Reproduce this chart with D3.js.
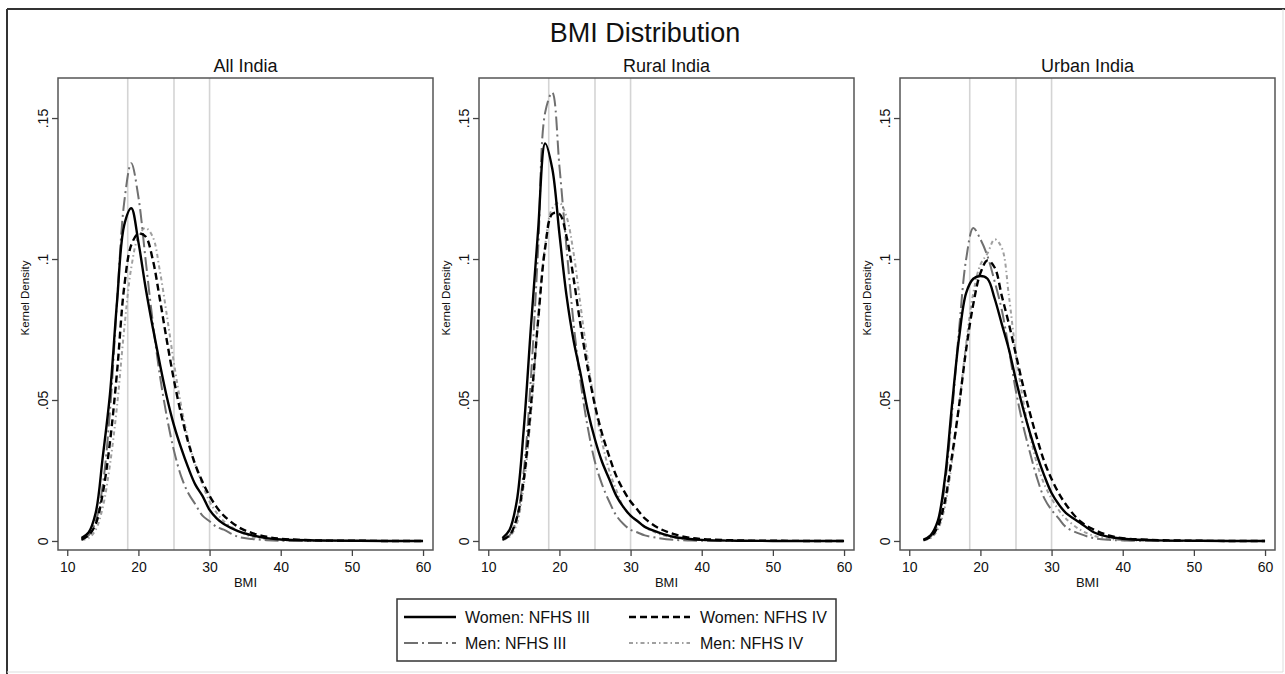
<!DOCTYPE html>
<html><head><meta charset="utf-8">
<script src="https://cdn.jsdelivr.net/npm/d3@7"></script>
<style>
body{margin:0;background:#fff}
text{font-family:"Liberation Sans",Arial,Helvetica,sans-serif;fill:#111}
</style></head>
<body><svg id="chart" width="1285" height="674"></svg>
<script>
// ---- data ----
const chartTitle = "BMI Distribution";
const panelNames = ["All India", "Rural India", "Urban India"];
const seriesNames = ["Women: NFHS III", "Women: NFHS IV", "Men: NFHS III", "Men: NFHS IV"];
const bmi = [12,13,14,15,16,17,18,19,20,21,22,23,24,25,26,27,28,29,30,31,32,34,36,38,40,45,50,55,60];
const xTicks = [10,20,30,40,50,60];
const yTicks = [0,0.05,0.1,0.15];
const yTickLabels = ["0",".05",".1",".15"];
const refLines = [18.5,25,30];

// All India
const allWomenIII = [0.001,0.003,0.010,0.030,0.052,0.085,0.112,0.118,0.106,0.090,0.076,0.063,0.051,0.041,0.033,0.026,0.020,0.016,0.011,0.008,0.006,0.0035,0.002,0.001,0.0005,0.0002,0.0001,0,0];
const allWomenIV  = [0.0005,0.002,0.006,0.017,0.035,0.060,0.090,0.105,0.109,0.108,0.100,0.086,0.071,0.057,0.045,0.035,0.027,0.021,0.016,0.012,0.009,0.005,0.0028,0.0015,0.0008,0.0002,0.0001,0,0];
const allMenIII   = [0.0005,0.002,0.007,0.020,0.046,0.085,0.120,0.134,0.122,0.100,0.078,0.059,0.044,0.032,0.023,0.017,0.013,0.009,0.007,0.005,0.004,0.0015,0.0007,0.0003,0.0001,0,0,0,0];
const allMenIV    = [0.0003,0.001,0.004,0.012,0.027,0.048,0.075,0.097,0.108,0.111,0.108,0.096,0.080,0.063,0.048,0.036,0.027,0.020,0.014,0.010,0.007,0.0035,0.0015,0.0007,0.0003,0.0001,0,0,0];
// Rural India
const ruralWomenIII = [0.001,0.004,0.014,0.040,0.076,0.110,0.141,0.132,0.109,0.087,0.071,0.059,0.046,0.036,0.028,0.022,0.016,0.012,0.009,0.007,0.005,0.003,0.0015,0.0008,0.0004,0.0001,0,0,0];
const ruralWomenIV  = [0.0005,0.002,0.008,0.022,0.048,0.078,0.104,0.116,0.116,0.108,0.093,0.076,0.061,0.048,0.038,0.030,0.023,0.018,0.014,0.011,0.008,0.0045,0.0025,0.0013,0.0007,0.0002,0.0001,0,0];
const ruralMenIII   = [0.0005,0.002,0.008,0.025,0.058,0.103,0.152,0.159,0.133,0.104,0.077,0.056,0.040,0.028,0.020,0.014,0.009,0.006,0.004,0.003,0.002,0.001,0.0004,0.0002,0.0001,0,0,0,0];
const ruralMenIV    = [0.0003,0.0015,0.006,0.020,0.045,0.078,0.105,0.118,0.120,0.115,0.102,0.083,0.064,0.048,0.035,0.025,0.018,0.012,0.009,0.007,0.005,0.0025,0.0012,0.0006,0.0003,0.0001,0,0,0];
// Urban India
const urbanWomenIII = [0.0005,0.002,0.007,0.022,0.048,0.072,0.088,0.093,0.094,0.093,0.086,0.077,0.068,0.057,0.047,0.038,0.030,0.023,0.017,0.013,0.010,0.0065,0.003,0.0015,0.0008,0.0002,0.0001,0,0];
const urbanWomenIV  = [0.0003,0.0015,0.005,0.014,0.030,0.048,0.068,0.084,0.095,0.0995,0.097,0.087,0.077,0.066,0.055,0.045,0.036,0.028,0.022,0.017,0.013,0.007,0.004,0.002,0.001,0.0003,0.0001,0,0];
const urbanMenIII   = [0.0003,0.0015,0.006,0.020,0.045,0.075,0.100,0.111,0.107,0.101,0.092,0.082,0.068,0.053,0.041,0.031,0.022,0.015,0.011,0.008,0.005,0.0025,0.001,0.0004,0.0002,0,0,0,0];
const urbanMenIV    = [0.0002,0.001,0.004,0.012,0.028,0.048,0.070,0.088,0.098,0.102,0.107,0.104,0.087,0.066,0.050,0.037,0.027,0.020,0.015,0.011,0.008,0.004,0.0018,0.0008,0.0003,0.0001,0,0,0];

const panelData = [
  [allWomenIII, allWomenIV, allMenIII, allMenIV],
  [ruralWomenIII, ruralWomenIV, ruralMenIII, ruralMenIV],
  [urbanWomenIII, urbanWomenIV, urbanMenIII, urbanMenIV]
];

// ---- styles ----
const styles = [
  {color:"#000", width:2.4, dash:null},
  {color:"#000", width:2.4, dash:"7,4"},
  {color:"#707070", width:2, dash:"14,4,2,4"},
  {color:"#a0a0a0", width:2, dash:"4,3,1.5,3"}
];

const svg = d3.select("#chart");
// outer frame
svg.append("line").attr("x1",7).attr("x2",1285).attr("y1",9).attr("y2",9).attr("stroke","#333").attr("stroke-width",2);
svg.append("line").attr("x1",7).attr("x2",7).attr("y1",9).attr("y2",674).attr("stroke","#333").attr("stroke-width",2);
svg.append("line").attr("x1",1283).attr("x2",1283).attr("y1",9).attr("y2",672).attr("stroke","#ddd").attr("stroke-width",1);
svg.append("line").attr("x1",7).attr("x2",1283).attr("y1",672).attr("y2",672).attr("stroke","#ddd").attr("stroke-width",1);

svg.append("text").attr("x",645).attr("y",42).attr("text-anchor","middle")
  .attr("font-size",27).text(chartTitle);

const panelLefts = [58, 479, 900];
const pw = 375, plotTop = 78, plotBottom = 550;

panelLefts.forEach((left, pi) => {
  const x = d3.scaleLinear().domain([8.7, 61.4]).range([left, left + pw]);
  const y = d3.scaleLinear().domain([-0.0032, 0.1642]).range([plotBottom, plotTop]);
  const g = svg.append("g");

  // reference lines
  refLines.forEach(v => {
    g.append("line").attr("x1",x(v)).attr("x2",x(v)).attr("y1",plotTop).attr("y2",plotBottom)
      .attr("stroke","#d4d4d4").attr("stroke-width",1.6);
  });

  // curves
  const line = d3.line().x((d,i)=>x(bmi[i])).y(d=>y(d)).curve(d3.curveCatmullRom.alpha(0.5));
  [3,2,1,0].forEach(si => {
    const st = styles[si];
    g.append("path").datum(panelData[pi][si]).attr("d", line)
      .attr("fill","none").attr("stroke",st.color).attr("stroke-width",st.width)
      .attr("stroke-dasharray",st.dash).attr("stroke-linejoin","round");
  });

  // panel box
  g.append("rect").attr("x",left).attr("y",plotTop).attr("width",pw).attr("height",plotBottom-plotTop)
    .attr("fill","none").attr("stroke","#555").attr("stroke-width",1.5);

  // x axis
  const xa = g.append("g").attr("transform",`translate(0,${plotBottom})`)
    .call(d3.axisBottom(x).tickValues(xTicks).tickSize(6).tickPadding(6).tickFormat(d3.format("d")));
  xa.select(".domain").remove();
  xa.selectAll("line").attr("stroke","#444").attr("stroke-width",1.3);
  xa.selectAll("text").attr("font-size",14).attr("font-family","Liberation Sans, Arial, sans-serif").attr("fill","#111");

  // y axis
  const ya = g.append("g").attr("transform",`translate(${left},0)`)
    .call(d3.axisLeft(y).tickValues(yTicks).tickSize(6).tickFormat((d,i)=>yTickLabels[i]));
  ya.select(".domain").remove();
  ya.selectAll("line").attr("stroke","#444").attr("stroke-width",1.3);
  ya.selectAll("text").attr("font-size",14).attr("font-family","Liberation Sans, Arial, sans-serif").attr("fill","#111")
    .attr("text-anchor","middle").attr("x",0).attr("dy",0)
    .attr("transform","translate(-10,0) rotate(-90)");

  // titles
  g.append("text").attr("x",left+pw/2).attr("y",72).attr("text-anchor","middle")
    .attr("font-size",18).text(panelNames[pi]);
  g.append("text").attr("x",left+pw/2).attr("y",587).attr("text-anchor","middle")
    .attr("font-size",13).text("BMI");
  g.append("text").attr("transform",`translate(${left-29},298) rotate(-90)`).attr("text-anchor","middle")
    .attr("font-size",11.5).text("Kernel Density");
});

// legend
const lg = svg.append("g");
lg.append("rect").attr("x",397).attr("y",599).attr("width",439).attr("height",62)
  .attr("fill","#fff").attr("stroke","#333").attr("stroke-width",1.5);
const legPos = [
  {x1:404,x2:456,tx:465,y:617},
  {x1:629,x2:690,tx:700,y:617},
  {x1:404,x2:456,tx:465,y:643},
  {x1:629,x2:690,tx:700,y:643}
];
seriesNames.forEach((name, i) => {
  const st = styles[i], p = legPos[i];
  lg.append("line").attr("x1",p.x1).attr("x2",p.x2).attr("y1",p.y).attr("y2",p.y)
    .attr("stroke",st.color).attr("stroke-width",st.width).attr("stroke-dasharray",st.dash);
  lg.append("text").attr("x",p.tx).attr("y",p.y+6).attr("font-size",16).text(name);
});
</script></body></html>
